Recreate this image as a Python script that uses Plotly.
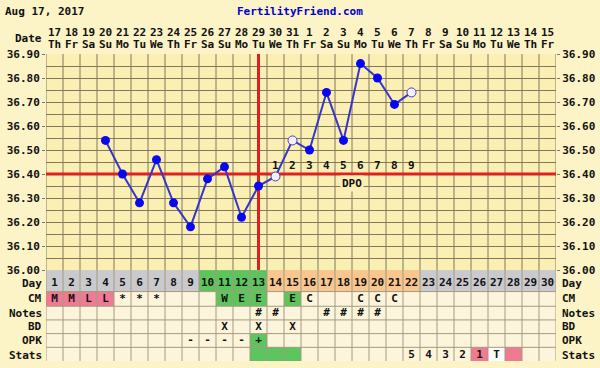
import plotly.graph_objects as go

# ---------------- data ----------------
chart_date = "Aug 17, 2017"
site_name = "FertilityFriend.com"
cycle_days = list(range(1, 31))
date_numbers = ["17", "18", "19", "20", "21", "22", "23", "24", "25", "26", "27", "28", "29", "30", "31",
                "1", "2", "3", "4", "5", "6", "7", "8", "9", "10", "11", "12", "13", "14", "15"]
weekdays = (["Th", "Fr", "Sa", "Su", "Mo", "Tu", "We"] * 5)[:30]

temp_days = [4, 5, 6, 7, 8, 9, 10, 11, 12, 13, 14, 15, 16, 17, 18, 19, 20, 21, 22]
temps = [36.54, 36.40, 36.28, 36.46, 36.28, 36.18, 36.38, 36.43, 36.22, 36.35,
         36.39, 36.54, 36.50, 36.74, 36.54, 36.86, 36.80, 36.69, 36.74]
open_days = [14, 15, 22]  # open-circle temps

coverline = 36.40
ovulation_day = 13
dpo_days = [14, 15, 16, 17, 18, 19, 20, 21, 22]
dpo_labels = ["1", "2", "3", "4", "5", "6", "7", "8", "9"]

temp_ticks = [36.00, 36.10, 36.20, 36.30, 36.40, 36.50, 36.60, 36.70, 36.80, 36.90]

day_phase = (["gray"] * 9) + (["green"] * 4) + (["orange"] * 9) + (["gray"] * 8)

cm_text = ["M", "M", "L", "L", "*", "*", "*", "", "", "", "W", "E", "E", "", "E", "C", "", "", "C", "C", "C",
           "", "", "", "", "", "", "", "", ""]
cm_color = ["pink", "pink", "pink", "pink", "", "", "", "", "", "", "green", "green", "green", "", "green",
            "", "", "", "", "", "", "", "", "", "", "", "", "", "", ""]
notes_text = [""] * 12 + ["#", "#", "", "", "#", "#", "#", "#"] + [""] * 10
bd_text = [""] * 10 + ["X", "", "X", "", "X"] + [""] * 15
opk_text = [""] * 8 + ["-", "-", "-", "-", "+"] + [""] * 17
opk_color = [""] * 12 + ["green"] + [""] * 17
stats_text = [""] * 21 + ["5", "4", "3", "2", "1", "T", "", "", ""]
stats_color = [""] * 12 + ["green", "green", "green"] + [""] * 10 + ["pink", "white", "pink", "", ""]

row_names = ["Day", "CM", "Notes", "BD", "OPK", "Stats"]

# ---------------- styling ----------------
W, H = 600, 368
ML, MR, MT, MB = 46, 44, 54, 0
PLOT_H = H - MT - MB
TEMP_BOTTOM_PX = 275
table_h = H - TEMP_BOTTOM_PX
split = table_h / PLOT_H
row_edges = [0, 22, 37, 51, 65, 79, table_h]
row_text_shift = [-2.5, 0, 0, 0, 0, -1]  # pixel nudges (negative = down)

PAPER_BG = "#FCF3C6"
PLOT_BG = "#FBEFB3"
CELL_BG = "#FDF5DB"
GRID = "#7f785f"
TGRID = "#a39a83"
COLORS = {"gray": "#C9C9CE", "green": "#5EC55E", "orange": "#F8C68E", "pink": "#EF7B93", "white": "#FFFFFF"}
FONT = "DejaVu Sans Mono"
TXT = "#111111"


def b(s):
    return "<b>" + s + "</b>" if s else ""


fig = go.Figure()
shapes = []
annotations = []

# table cell backgrounds
row_colors = [day_phase, cm_color, [""] * 30, [""] * 30, opk_color, stats_color]
for r, colors in enumerate(row_colors):
    for i, d in enumerate(cycle_days):
        c = COLORS.get(colors[i], CELL_BG)
        shapes.append(dict(type="rect", xref="x", yref="y2", x0=d - 0.5, x1=d + 0.5,
                           y0=row_edges[r], y1=row_edges[r + 1], fillcolor=c,
                           line=dict(width=0), layer="below"))

# table grid lines
for d in cycle_days + [31]:
    shapes.append(dict(type="line", xref="x", yref="y2", x0=d - 0.5, x1=d - 0.5,
                       y0=0, y1=table_h, line=dict(color=TGRID, width=1), layer="below"))
for e in row_edges[1:-1]:
    shapes.append(dict(type="line", xref="x", yref="y2", x0=0.5, x1=30.5, y0=e, y1=e,
                       line=dict(color=TGRID, width=1), layer="below"))

# vertical grid lines in the temperature area
for d in cycle_days + [31]:
    shapes.append(dict(type="line", xref="x", yref="y", x0=d - 0.5, x1=d - 0.5,
                       y0=temp_ticks[0], y1=temp_ticks[-1], line=dict(color=GRID, width=1), layer="below"))

# coverline and ovulation line
shapes.append(dict(type="line", xref="x", yref="y", x0=0.5, x1=30.5, y0=coverline, y1=coverline,
                   line=dict(color="#DD2020", width=3), layer="between"))
shapes.append(dict(type="line", xref="x", yref="y", x0=ovulation_day, x1=ovulation_day,
                   y0=temp_ticks[0], y1=temp_ticks[-1], line=dict(color="#DD2020", width=3), layer="between"))

# temperature line + markers
fig.add_trace(go.Scatter(x=temp_days, y=temps, mode="lines", line=dict(color="#3636C8", width=2),
                         hoverinfo="skip", showlegend=False))
fx = [d for d in temp_days if d not in open_days]
fy = [t for d, t in zip(temp_days, temps) if d not in open_days]
ox = [d for d in temp_days if d in open_days]
oy = [t for d, t in zip(temp_days, temps) if d in open_days]
fig.add_trace(go.Scatter(x=fx, y=fy, mode="markers", marker=dict(color="#0808F0", size=9, line=dict(width=0)),
                         showlegend=False))
fig.add_trace(go.Scatter(x=ox, y=oy, mode="markers",
                         marker=dict(color="#F4F0FF", size=9, line=dict(color="#4040C8", width=1)),
                         showlegend=False))

# DPO labels
for d, lab in zip(dpo_days, dpo_labels):
    annotations.append(dict(x=d, y=coverline, xref="x", yref="y", text=b(lab), showarrow=False,
                            yanchor="middle", yshift=9, font=dict(family=FONT, size=11, color=TXT)))
annotations.append(dict(x=(dpo_days[0] + dpo_days[-1]) / 2 + 0.5, y=coverline, xref="x", yref="y",
                        text=b("DPO"), showarrow=False, yanchor="middle", yshift=-9,
                        bgcolor=PLOT_BG, borderpad=1, font=dict(family=FONT, size=11, color=TXT)))

# table text
row_texts = [[str(d) for d in cycle_days], cm_text, notes_text, bd_text, opk_text, stats_text]
for r, texts in enumerate(row_texts):
    yc = (row_edges[r] + row_edges[r + 1]) / 2
    fig.add_trace(go.Scatter(x=cycle_days, y=[yc - row_text_shift[r]] * 30, yaxis="y2", mode="text",
                             text=[b(t) for t in texts], textposition="middle center",
                             textfont=dict(family=FONT, size=11, color=TXT),
                             hoverinfo="skip", showlegend=False))
    annotations.append(dict(x=0, y=yc, xref="paper", yref="y2", text=b(row_names[r]), showarrow=False,
                            xanchor="right", xshift=-2, yshift=row_text_shift[r],
                            font=dict(family=FONT, size=11, color=TXT)))
    annotations.append(dict(x=1, y=yc, xref="paper", yref="y2", text=b(row_names[r]), showarrow=False,
                            xanchor="left", xshift=4, yshift=row_text_shift[r],
                            font=dict(family=FONT, size=11, color=TXT)))

# header: dates and weekdays
for d, dn, wd in zip(cycle_days, date_numbers, weekdays):
    annotations.append(dict(x=d, y=1 + (MT - 32) / PLOT_H, xref="x", yref="paper", text=b(dn),
                            showarrow=False, yanchor="middle", font=dict(family=FONT, size=11, color=TXT)))
    annotations.append(dict(x=d, y=1 + (MT - 44) / PLOT_H, xref="x", yref="paper", text=b(wd),
                            showarrow=False, yanchor="middle", font=dict(family=FONT, size=11, color=TXT)))
annotations.append(dict(x=0, y=1 + (MT - 38) / PLOT_H, xref="paper", yref="paper", text=b("Date"),
                        showarrow=False, xanchor="right", xshift=-2, yanchor="middle",
                        font=dict(family=FONT, size=11, color=TXT)))
annotations.append(dict(x=-ML / (W - ML - MR), y=1 + (MT - 11) / PLOT_H, xref="paper", yref="paper",
                        text=b(chart_date), showarrow=False, xanchor="left", xshift=3, yanchor="middle",
                        font=dict(family=FONT, size=11, color=TXT)))
annotations.append(dict(x=(300 - ML) / (W - ML - MR), y=1 + (MT - 11) / PLOT_H, xref="paper", yref="paper",
                        text=b(site_name), showarrow=False, xanchor="center", yanchor="middle",
                        font=dict(family=FONT, size=11, color="#0000CC")))

tick_text = [b("%.2f" % t) for t in temp_ticks]
yaxis_common = dict(range=[temp_ticks[0], temp_ticks[-1]], tickvals=temp_ticks, ticktext=tick_text,
                    tickfont=dict(family=FONT, size=11, color=TXT), domain=[split, 1], zeroline=False)

fig.update_layout(
    width=W, height=H, margin=dict(l=ML, r=MR, t=MT, b=MB, pad=0),
    paper_bgcolor=PAPER_BG, plot_bgcolor=PLOT_BG,
    xaxis=dict(range=[0.5, 30.5], visible=False, fixedrange=True),
    yaxis=dict(**yaxis_common, showgrid=True, gridcolor=GRID, gridwidth=1,
               ticks="outside", ticklen=3, tickcolor=GRID,
               minor=dict(dtick=0.05, showgrid=True, gridcolor=GRID, gridwidth=1, ticks="")),
    yaxis3=dict(**yaxis_common, overlaying="y", side="right", anchor="x", showgrid=False,
                ticks="outside", ticklen=3, tickcolor=GRID),
    yaxis2=dict(domain=[0, split], range=[table_h, 0], visible=False, anchor="x"),
    shapes=shapes, annotations=annotations, showlegend=False,
)
fig.add_trace(go.Scatter(x=[None], y=[None], yaxis="y3", showlegend=False))

fig.write_html("out.html")
